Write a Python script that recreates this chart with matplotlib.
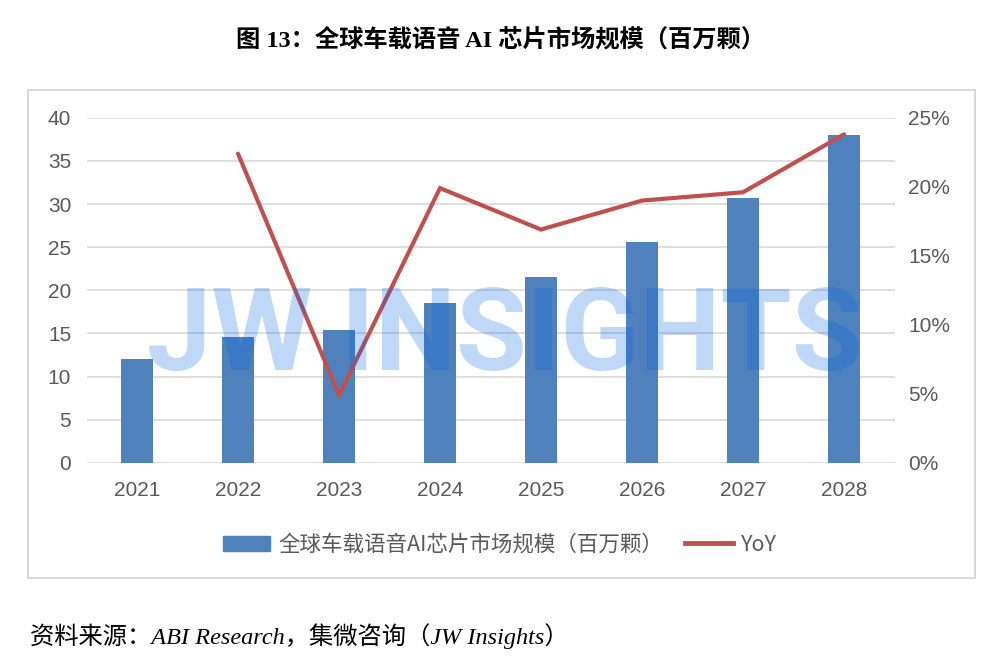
import matplotlib
matplotlib.use('Agg')
import matplotlib.pyplot as plt
from matplotlib.patches import Rectangle, Patch
from matplotlib.lines import Line2D
from matplotlib.ticker import MultipleLocator, PercentFormatter
import numpy as np

# data
years = ['2021', '2022', '2023', '2024', '2025', '2026', '2027', '2028']
market_size = [12.0, 14.6, 15.4, 18.5, 21.5, 25.6, 30.7, 38.0]   # 百万颗
yoy = [np.nan, 22.4, 4.9, 19.9, 16.9, 19.0, 19.6, 23.8]          # %

title = '图 13：全球车载语音 AI 芯片市场规模（百万颗）'
bar_label = '全球车载语音AI芯片市场规模（百万颗）'
line_label = 'YoY'
source = '资料来源：ABI Research，集微咨询（JW Insights）'

BLUE = '#4F81BD'
RED = '#C0504D'
GREY = '#595959'
GRID = '#D9D9D9'

plt.rcParams['font.family'] = ['Liberation Sans', 'Noto Sans CJK SC']

fig = plt.figure(figsize=(10, 6.63), dpi=100)

# outer frame around the chart
fig.patches.append(Rectangle((0.028, 1 - 578 / 663), 0.947, (578 - 90) / 663,
                             transform=fig.transFigure, fill=False,
                             edgecolor=GRID, lw=1.5))

ax = fig.add_axes([0.0865, 0.302, 0.808, 0.5204])
x = np.arange(len(years))
ax.bar(x, market_size, width=0.31, color=BLUE, zorder=2)
ax.set_xlim(-0.5, len(years) - 0.5)
ax.set_ylim(0, 40)
ax.yaxis.set_major_locator(MultipleLocator(5))
ax.set_xticks(x)
ax.set_xticklabels(years)
ax.grid(axis='y', color=GRID, lw=1.2)
ax.set_axisbelow(True)
for s in ax.spines.values():
    s.set_visible(False)
ax.tick_params(axis='both', length=0, labelsize=15, colors=GREY)
ax.tick_params(axis='y', pad=11)
ax.tick_params(axis='x', pad=13)

ax2 = ax.twinx()
ax2.plot(x, yoy, color=RED, lw=3, solid_capstyle='round', solid_joinstyle='miter')
ax2.set_ylim(0, 25)
ax2.yaxis.set_major_locator(MultipleLocator(5))
ax2.yaxis.set_major_formatter(PercentFormatter(decimals=0))
for s in ax2.spines.values():
    s.set_visible(False)
ax2.tick_params(axis='y', length=0, labelsize=15, colors=GREY, pad=10)

handles = [Patch(facecolor=BLUE, edgecolor=BLUE),
           Line2D([0], [0], color=RED, lw=3.5)]
fig.legend(handles, [bar_label, line_label], loc='center',
           bbox_to_anchor=(0.5, 1 - 545 / 663), ncol=2, frameon=False,
           labelcolor=GREY, handlelength=2.2, handleheight=0.75,
           columnspacing=1.0, handletextpad=0.4,
           prop={'family': ['Noto Sans CJK SC'], 'size': 15.5})

fig.text(0.5, 1 - 40 / 663, title, ha='center', va='center', fontsize=17.5,
         weight='bold', color='black',
         family=['Liberation Serif', 'Noto Sans CJK SC'])

fig.text(0.03, 1 - 636 / 663, source, ha='left', va='center', fontsize=17.5,
         style='italic', color='black',
         family=['Liberation Serif', 'Noto Sans CJK SC'])

# watermark
fig.text(0.505, 1 - 370 / 663, 'JW INSIGHTS', ha='center', va='baseline',
         fontsize=83, weight='bold', color='#0064E6', alpha=0.25,
         family=['Roboto'], zorder=10)

fig.savefig('out.png', dpi=100)
